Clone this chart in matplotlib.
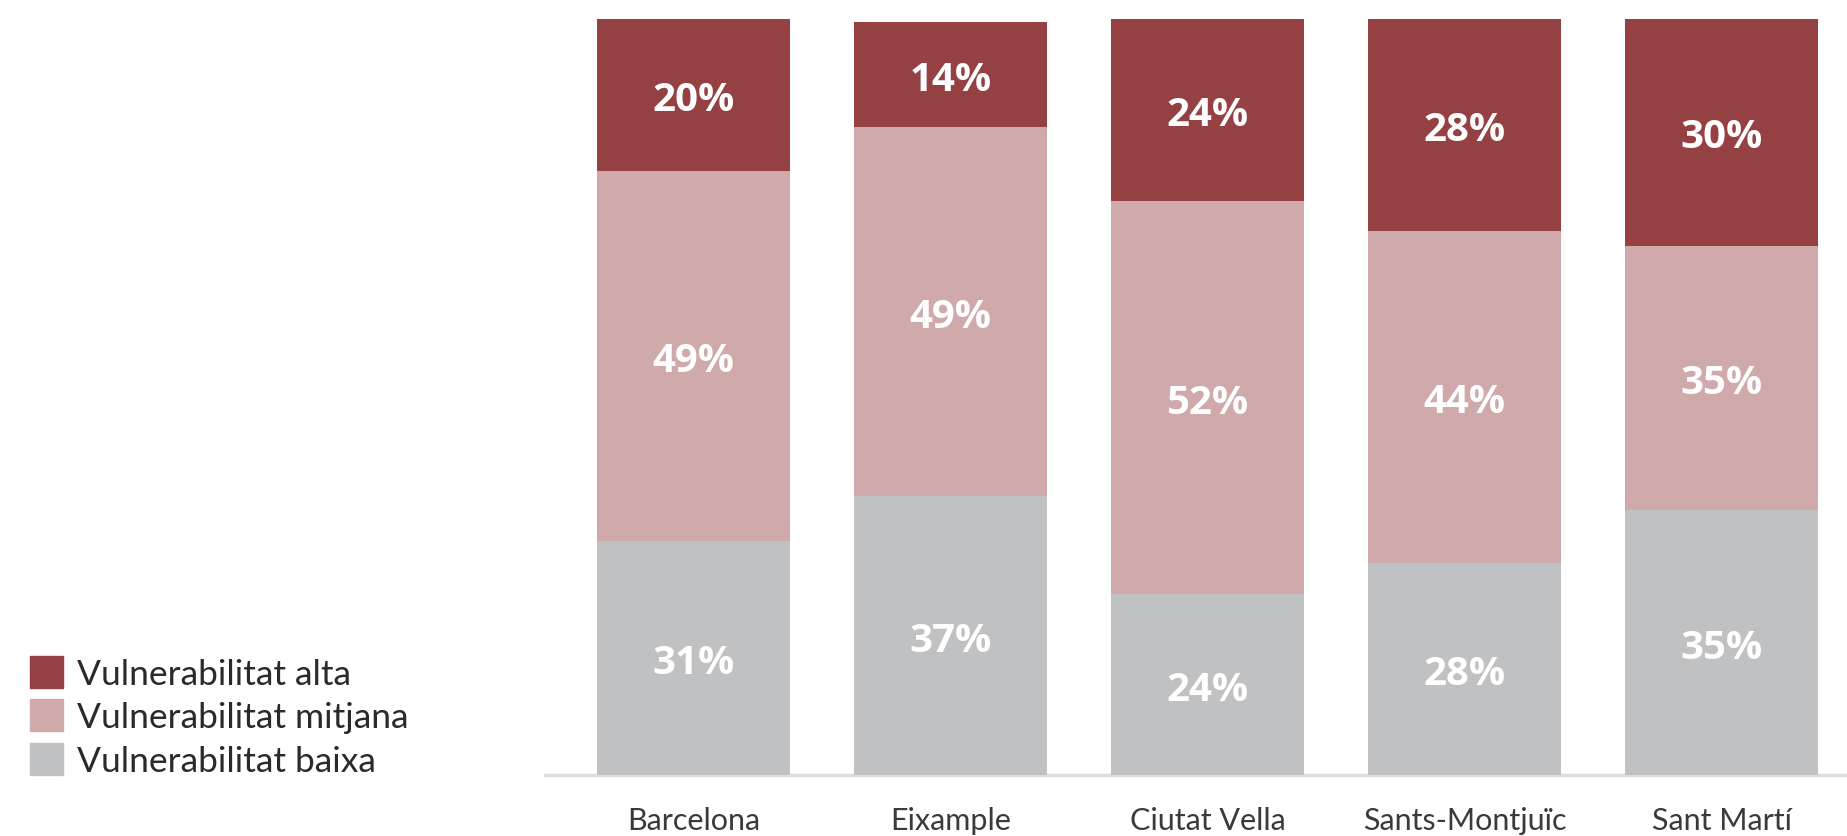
import numpy as np
import matplotlib
matplotlib.use("Agg")
from matplotlib import pyplot as plt
from matplotlib.patches import Patch

# data (percent of each district)
districtes = ["Barcelona", "Eixample", "Ciutat Vella", "Sants-Montjuïc", "Sant Martí"]
baixa = [31.0, 36.9, 23.9, 28.0, 35.0]
mitjana = [48.9, 48.8, 52.0, 44.0, 35.0]
alta = [20.1, 13.9, 24.1, 28.0, 30.0]
etiquetes = ["Vulnerabilitat alta", "Vulnerabilitat mitjana", "Vulnerabilitat baixa"]

col_alta = "#954043"
col_mitjana = "#d0a9aa"
col_baixa = "#c0c1c3"

fig = plt.figure(figsize=(18.47, 8.37), dpi=100)
ax = fig.add_axes([0.2951, 0.0729, 0.7049, 0.9032])

x = np.arange(len(districtes))
w = 0.751
baixa = np.array(baixa)
mitjana = np.array(mitjana)
alta = np.array(alta)

ax.bar(x, baixa, w, color=col_baixa, zorder=2)
ax.bar(x, mitjana, w, bottom=baixa, color=col_mitjana, zorder=2)
ax.bar(x, alta, w, bottom=baixa + mitjana, color=col_alta, zorder=2)

# percentage labels in the middle of each segment
for vals, bottoms in [(baixa, np.zeros(len(x))), (mitjana, baixa), (alta, baixa + mitjana)]:
    for xi, v, b in zip(x, vals, bottoms):
        ax.text(xi, b + v / 2, f"{round(v):.0f}%", ha="center", va="center_baseline",
                color="white", fontsize=29, fontweight="bold", family="Open Sans", zorder=3)

ax.set_xlim(-0.578, 4.488)
ax.set_ylim(0, 100)
ax.set_xticks(x)
ax.set_xticklabels(districtes, fontsize=22, color="#3a3a3a", family="Lato", fontweight="normal")
ax.tick_params(axis="x", length=0, pad=22)
ax.set_yticks([])
for s in ["top", "right", "left"]:
    ax.spines[s].set_visible(False)
ax.spines["bottom"].set_color("#dddddd")
ax.spines["bottom"].set_linewidth(2.5)
ax.spines["bottom"].set_zorder(1)

handles = [Patch(color=col_alta), Patch(color=col_mitjana), Patch(color=col_baixa)]
fig.legend(handles, etiquetes, loc="lower left", bbox_to_anchor=(0.0162, 0.0705),
           frameon=False, prop={"family": "Lato", "weight": "normal", "size": 25.5},
           handlelength=0.94, handleheight=1.0, handletextpad=0.4, labelspacing=0.27,
           borderpad=0, borderaxespad=0, labelcolor="#2a2a2a")

fig.savefig("out.png", dpi=100)
